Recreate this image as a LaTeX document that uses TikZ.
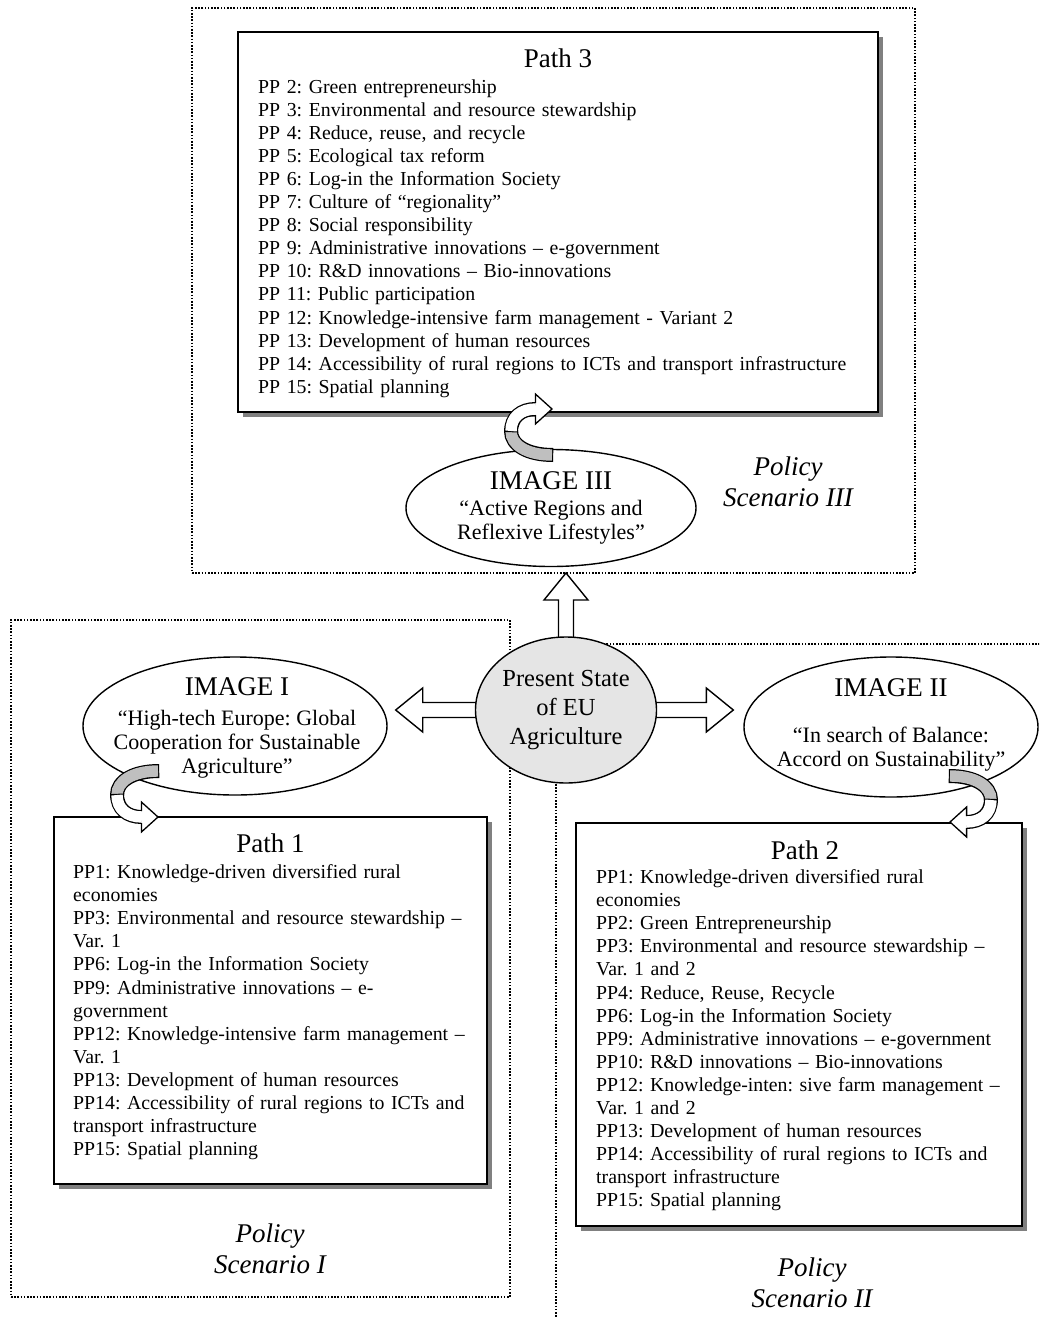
\documentclass[tikz,border=0pt]{standalone}
\usepackage{fontspec}
\setmainfont{Liberation Serif}
\usetikzlibrary{calc,positioning,shadows,shapes.geometric}
\frenchspacing

\newcommand{\boxfont}{\fontsize{19.8}{23.1}\selectfont}
\newcommand{\titlefont}{\fontsize{27}{31}\selectfont}
\newcommand{\subfont}{\fontsize{22}{24}\selectfont}
\newcommand{\presfont}{\fontsize{24.5}{29}\selectfont}
\newcommand{\policyfont}{\fontsize{27}{31}\selectfont\itshape}

% white block arrow from #1 to the tip #2
\newcommand{\blockarrow}[2]{%
  \coordinate (ba) at ($(#2)!27pt!(#1)$);
  \filldraw[blockarr] ($(#1)!7.5pt!90:(#2)$) -- ($(ba)!7.5pt!90:(#2)$) -- ($(ba)!22pt!90:(#2)$) -- (#2)
    -- ($(ba)!22pt!-90:(#2)$) -- ($(ba)!7.5pt!-90:(#2)$) -- ($(#1)!7.5pt!-90:(#2)$) -- cycle;}

\tikzset{
  looparr/.pic={
    \draw[line width=14pt, shorten <=-1.2pt] (0,0) .. controls (-25,0) and (-41,10) .. (-41,24);
    \draw[line width=11.4pt, black!25] (0,0) .. controls (-25,0) and (-41,10) .. (-41,24);
    \draw[line width=14pt, shorten <=-1.2pt] (-41,24) .. controls (-41,38) and (-31,46) .. (-16,46);
    \draw[line width=11.4pt, white] (-41,24) .. controls (-41,38) and (-31,46) .. (-16,46);
    \fill[white] (-16.6,31) -- (0,46) -- (-16.6,61) -- cycle;
    \draw[line width=1.3pt, line join=miter] (-16.6,40) -- (-16.6,31) -- (0,46) -- (-16.6,61) -- (-16.6,52);
  }
}

\begin{document}
\begin{tikzpicture}[x=1pt, y=-1pt,
  scenframe/.style={draw, line width=1.6pt, dash pattern=on 1.6pt off 1.6pt, inner sep=0pt, outer sep=0pt},
  pathbox/.style={draw, line width=2pt, fill=white, inner sep=0pt, outer sep=0pt,
    drop shadow={shadow xshift=5pt, shadow yshift=-5pt, fill=black!50, opacity=1}},
  boxtitle/.style={font=\titlefont, inner sep=0pt, anchor=base},
  boxlist/.style={font=\boxfont, align=left, inner sep=0pt, anchor=base west},
  imgell/.style={draw, ellipse, line width=1.4pt, fill=white, inner sep=0pt},
  imgtitle/.style={font=\titlefont, inner sep=0pt, anchor=base},
  imgsub/.style={font=\subfont, align=center, inner sep=0pt, anchor=base},
  policy/.style={font=\policyfont, align=center, inner sep=0pt},
  blockarr/.style={draw, fill=white, line width=1.4pt, line join=miter},
]
\useasboundingbox (0,0) rectangle (1039,1317);
\clip (0,0) rectangle (1039,1317);

% scenario frames
\node[scenframe, minimum width=723pt, minimum height=565pt] (scen3) at (553.5,290.5) {};
\node[scenframe, minimum width=499pt, minimum height=677pt] (scen1) at (260.5,958.5) {};
\node[scenframe, minimum width=544pt, minimum height=756pt] (scen2) at (828,1022) {};

\node[policy] (pol3) at (788,482) {Policy\\Scenario III};
\node[policy] (pol1) at (270,1249) {Policy\\Scenario I};
\node[policy] (pol2) at (812,1283) {Policy\\Scenario II};

% paths
\node[pathbox, minimum width=640pt, minimum height=380pt] (path3) at (558,222) {};
\node[boxtitle] (path3t) at ($(path3.north)+(0,35.5)$) {Path 3};
\node[boxlist, text width=600pt] (path3l) at ($(path3.north west)+(20,61)$) {PP 2: Green entrepreneurship\\
PP 3: Environmental and resource stewardship\\
PP 4: Reduce, reuse, and recycle\\
PP 5: Ecological tax reform\\
PP 6: Log-in the Information Society\\
PP 7: Culture of “regionality”\\
PP 8: Social responsibility\\
PP 9: Administrative innovations – e-government\\
PP 10: R\&D innovations – Bio-innovations\\
PP 11: Public participation\\
PP 12: Knowledge-intensive farm management - Variant 2\\
PP 13: Development of human resources\\
PP 14: Accessibility of rural regions to ICTs and transport infrastructure\\
PP 15: Spatial planning};

\node[pathbox, minimum width=433pt, minimum height=367pt] (path1) at (270.5,1000.5) {};
\node[boxtitle] (path1t) at ($(path1.north)+(0,35.5)$) {Path 1};
\node[boxlist, text width=400pt] (path1l) at ($(path1.north west)+(19,61.5)$) {PP1: Knowledge-driven diversified rural\\
economies\\
PP3: Environmental and resource stewardship –\\
Var. 1\\
PP6: Log-in the Information Society\\
PP9: Administrative innovations – e-\\
government\\
PP12: Knowledge-intensive farm management –\\
Var. 1\\
PP13: Development of human resources\\
PP14: Accessibility of rural regions to ICTs and\\
transport infrastructure\\
PP15: Spatial planning};

\node[pathbox, minimum width=446pt, minimum height=403pt] (path2) at (799,1024.5) {};
\node[boxtitle] (path2t) at ($(path2.north)+(6,36)$) {Path 2};
\node[boxlist, text width=405pt] (path2l) at ($(path2.north west)+(20,60.5)$) {PP1: Knowledge-driven diversified rural\\
economies\\
PP2: Green Entrepreneurship\\
\makebox[\linewidth][s]{PP3: Environmental and resource stewardship –}\\
Var. 1 and 2\\
PP4: Reduce, Reuse, Recycle\\
PP6: Log-in the Information Society\\
PP9: Administrative innovations – e-government\\
PP10: R\&D innovations – Bio-innovations\\
\makebox[\linewidth][s]{PP12: Knowledge-inten: sive farm management –}\\
Var. 1 and 2\\
PP13: Development of human resources\\
\makebox[\linewidth][s]{PP14: Accessibility of rural regions to ICTs and}\\
transport infrastructure\\
PP15: Spatial planning};

% images (subtitle nodes sit on their last baseline)
\node[imgell, minimum width=290pt, minimum height=117pt] (img3) at (551,508) {};
\node[imgtitle] (img3t) at ($(img3.center)+(0,-19)$) {IMAGE III};
\node[imgsub] (img3s) at ($(img3.center)+(0,31)$) {“Active Regions and\\Reflexive Lifestyles”};

\node[imgell, minimum width=304pt, minimum height=138pt] (img1) at (235,726) {};
\node[imgtitle] (img1t) at ($(img1.center)+(2,-31)$) {IMAGE I};
\node[imgsub] (img1s) at ($(img1.center)+(2,47)$) {“High-tech Europe: Global\\Cooperation for Sustainable\\Agriculture”};

\node[imgell, minimum width=294pt, minimum height=140pt] (img2) at (891,727) {};
\node[imgtitle] (img2t) at ($(img2.center)+(0,-31)$) {IMAGE II};
\node[imgsub] (img2s) at ($(img2.center)+(0,39)$) {“In search of Balance:\\Accord on Sustainability”};

% present state and its arrows
\coordinate (presc) at (566,710);
\coordinate (uptip) at (presc |- scen3.south);
\coordinate (lefttip) at ($(presc -| img1.east)+(8,0)$);
\coordinate (righttip) at ($(presc -| img2.west)+(-10,0)$);
\blockarrow{presc}{uptip}
\blockarrow{presc}{lefttip}
\blockarrow{presc}{righttip}
\node[ellipse, draw, fill=black!10, line width=1.4pt, inner sep=0pt, minimum width=181pt, minimum height=146pt,
  font=\presfont, align=center] (pres) at (presc) {Present State\\of EU\\Agriculture};

% curved arrows from the images to the paths
\pic at ($(img1.center)+(-77,45)$) {looparr};
\pic[xscale=-1] at ($(img2.center)+(59,49)$) {looparr};
\pic[yscale=-1] at ($(img3.center)+(1,-53)$) {looparr};
\end{tikzpicture}
\end{document}
